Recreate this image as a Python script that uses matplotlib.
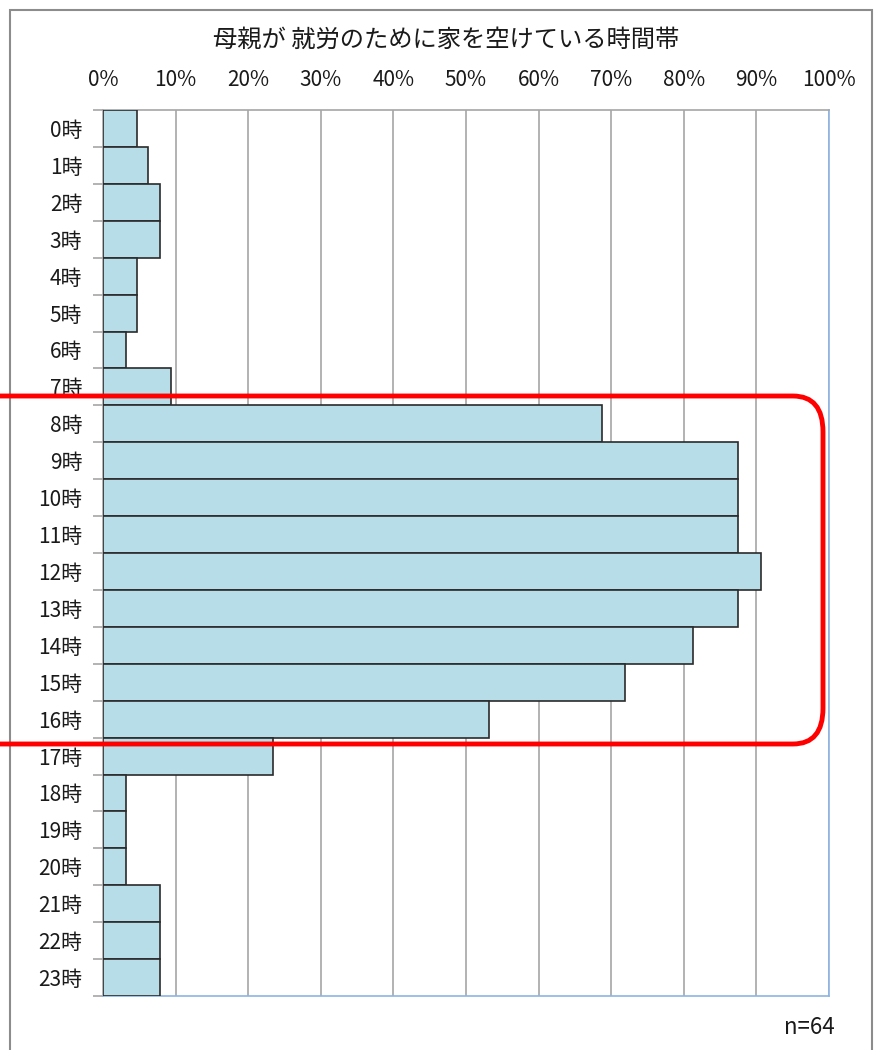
import matplotlib
matplotlib.use("Agg")
import matplotlib.pyplot as plt
from matplotlib.patches import FancyBboxPatch, Rectangle
from matplotlib.ticker import FixedLocator

plt.rcParams['font.family'] = ['Noto Sans CJK JP', 'DejaVu Sans']

hours = [f"{h}時" for h in range(24)]
values = [4.69, 6.25, 7.81, 7.81, 4.69, 4.69, 3.13, 9.38,
          68.75, 87.5, 87.5, 87.5, 90.63, 87.5, 81.25, 71.88,
          53.13, 23.44, 3.13, 3.13, 3.13, 7.81, 7.81, 7.81]
xticks = list(range(0, 101, 10))
xticklabels = [f"{t}%" for t in xticks]
title = "母親が 就労のために家を空けている時間帯"
note = "n=64"

W, H = 878, 1050
fig = plt.figure(figsize=(W / 100, H / 100), dpi=100)

def fx(px):
    return px / W

def fy(py):
    return 1 - py / H

# outer frame
frame = Rectangle((fx(10), fy(1060)), fx(872) - fx(10), fy(10) - fy(1060),
                  transform=fig.transFigure, fill=False, edgecolor='#8c8c8c',
                  linewidth=1.5, clip_on=False)
fig.add_artist(frame)

ax = fig.add_axes([fx(103), fy(996), fx(829) - fx(103), fy(110) - fy(996)])
y = list(range(len(hours)))
ax.barh(y, values, height=1.0, color='#b7dee8', edgecolor='#2b2b2b',
        linewidth=1.2, zorder=3)
ax.set_xlim(0, 100)
ax.set_ylim(len(hours) - 0.5, -0.5)

ax.xaxis.tick_top()
ax.set_xticks(xticks)
ax.set_xticklabels(xticklabels, fontsize=15, color='#1a1a1a')
ax.tick_params(axis='x', length=0, pad=14)
ax.grid(axis='x', color='#a6a6a6', linewidth=1.2, zorder=0)

ax.set_yticks(y)
ax.set_yticklabels(hours, fontsize=15, color='#1a1a1a')
ax.tick_params(axis='y', which='major', length=0, pad=15)
ax.yaxis.set_minor_locator(FixedLocator([i - 0.5 for i in range(len(hours) + 1)]))
ax.tick_params(axis='y', which='minor', length=7, color='#a6a6a6', width=1.2)

for s in ['left', 'top']:
    ax.spines[s].set_color('#a6a6a6')
    ax.spines[s].set_linewidth(1.2)
for s in ['right', 'bottom']:
    ax.spines[s].set_color('#8eb4e3')
    ax.spines[s].set_linewidth(1.2)

fig.text(fx(446), fy(40), title, ha='center', va='center', fontsize=17.5,
         color='#1a1a1a')
fig.text(fx(809), fy(1028), note, ha='center', va='center', fontsize=16,
         color='#1a1a1a')

# red highlight box
box = FancyBboxPatch((fx(-50), fy(744)), fx(823) - fx(-50), fy(396) - fy(744),
                     boxstyle=f"round,pad=0,rounding_size={30 / W}",
                     transform=fig.transFigure, fill=False, edgecolor='#ff0000',
                     linewidth=3.5, clip_on=False, zorder=10)
fig.add_artist(box)

fig.savefig("out.png", dpi=100)
